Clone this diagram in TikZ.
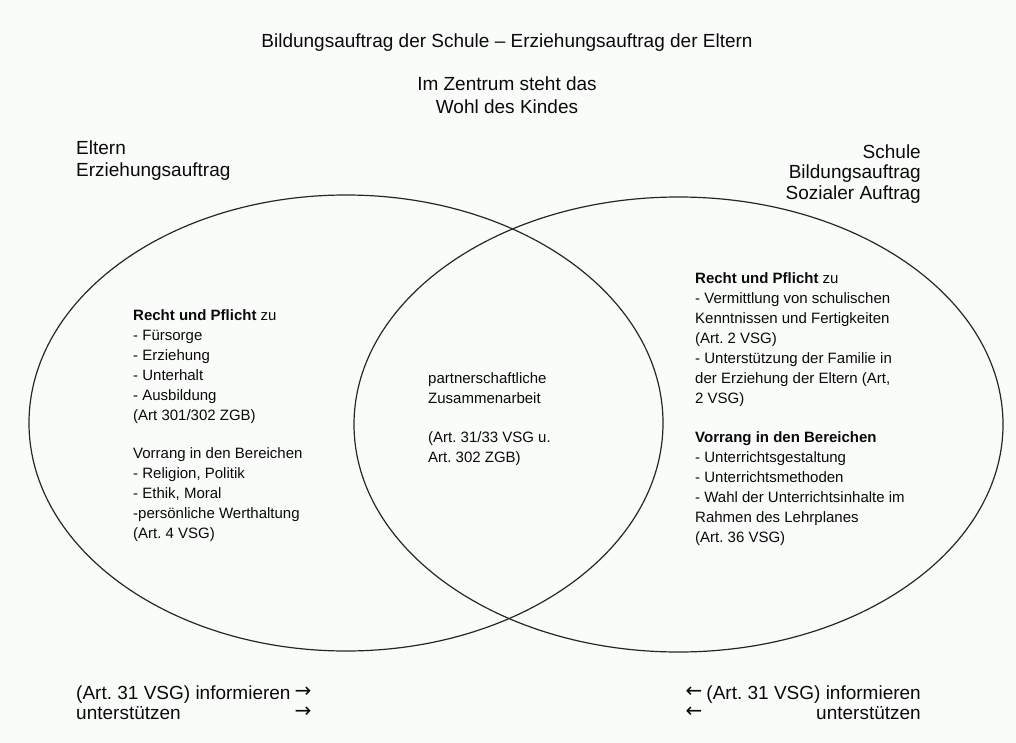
\documentclass[tikz,border=0pt]{standalone}
\usepackage{fontspec}
\setmainfont{Liberation Sans}
\newfontfamily\arrowfont{DejaVu Sans}
\definecolor{bgcol}{RGB}{250,252,250}
\definecolor{inkcol}{RGB}{10,10,10}
\newcommand\rarr{\raisebox{1.5bp}{\arrowfont\fontsize{20bp}{20bp}\selectfont →}}
\newcommand\larr{\raisebox{1.5bp}{\arrowfont\fontsize{20bp}{20bp}\selectfont ←}}
\tikzset{
  body/.style={inner sep=0pt, anchor=base west, text=inkcol, font=\frenchspacing\fontsize{15bp}{20bp}\selectfont},
  headA/.style={inner sep=0pt, text=inkcol, font=\frenchspacing\fontsize{19bp}{22bp}\selectfont},
  headB/.style={inner sep=0pt, text=inkcol, font=\frenchspacing\fontsize{19bp}{20.5bp}\selectfont},
  foot/.style={inner sep=0pt, text=inkcol, font=\frenchspacing\fontsize{19bp}{20bp}\selectfont},
  venn/.style={line width=1.2bp, draw=black!85},
}
\begin{document}
\begin{tikzpicture}[x=1bp,y=-1bp]
\fill[bgcol] (0,0) rectangle (1016,743);
\useasboundingbox (0,0) rectangle (1016,743);
% circles
\draw[venn] (346,423) ellipse [x radius=317bp, y radius=228bp];
\draw[venn] (678.5,424.5) ellipse [x radius=324.5bp, y radius=227.5bp];
% headings
\node[headA, anchor=base] (title) at (507,48) {Bildungsauftrag der Schule – Erziehungsauftrag der Eltern};
\node[headA, anchor=base] (zentrum) at (507,91) {\begin{tabular}[t]{@{}c@{}}Im Zentrum steht das\\Wohl des Kindes\end{tabular}};
\node[headA, anchor=base west] (eltern) at (76,154) {\begin{tabular}[t]{@{}l@{}}Eltern\\Erziehungsauftrag\end{tabular}};
\node[headB, anchor=base east] (schule) at (921,158) {\begin{tabular}[t]{@{}r@{}}Schule\\Bildungsauftrag\\Sozialer Auftrag\end{tabular}};
% left body
\node[body] (lefttext) at (133,320.5) {\begin{tabular}[t]{@{}l@{}}
\textbf{Recht und Pflicht} zu\\
- Fürsorge\\
- Erziehung\\
- Unterhalt\\
- Ausbildung\\
(Art 301/302 ZGB)\\[18bp]
Vorrang in den Bereichen\\
- Religion, Politik\\
- Ethik, Moral\\
-persönliche Werthaltung\\
(Art. 4 VSG)
\end{tabular}};
% centre
\node[body] (centertext) at (428,383.5) {\begin{tabular}[t]{@{}l@{}}
partnerschaftliche\\
Zusammenarbeit\\[19bp]
(Art. 31/33 VSG u.\\
Art. 302 ZGB)
\end{tabular}};
% right body
\node[body] (righttext) at (695,283.5) {\begin{tabular}[t]{@{}l@{}}
\textbf{Recht und Pflicht} zu\\
- Vermittlung von schulischen\\
Kenntnissen und Fertigkeiten\\
(Art. 2 VSG)\\
- Unterstützung der Familie in\\
der Erziehung der Eltern (Art,\\
2 VSG)\\[19bp]
\textbf{Vorrang in den Bereichen}\\
- Unterrichtsgestaltung\\
- Unterrichtsmethoden\\
- Wahl der Unterrichtsinhalte im\\
Rahmen des Lehrplanes\\
(Art. 36 VSG)
\end{tabular}};
% bottom
\node[foot, anchor=base west] (leftfoot) at (76,699) {\begin{tabular}[t]{@{}l@{\hspace{4bp}}l@{}}
(Art. 31 VSG) informieren & \rarr\\
unterstützen & \rarr
\end{tabular}};
\node[foot, anchor=base east] (rightfoot) at (921,699) {\begin{tabular}[t]{@{}l@{\hspace{4bp}}r@{}}
\larr & (Art. 31 VSG) informieren\\
\larr & unterstützen
\end{tabular}};
\end{tikzpicture}
\end{document}
